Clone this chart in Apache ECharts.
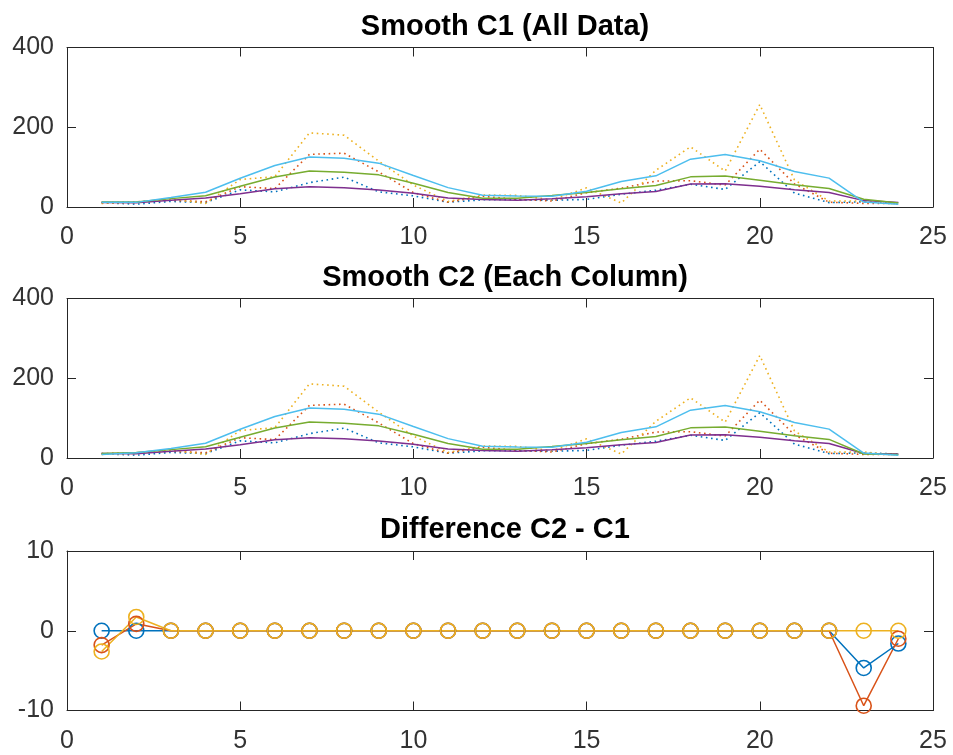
<!DOCTYPE html>
<html><head><meta charset="utf-8">
<script src="https://cdn.jsdelivr.net/npm/echarts@6/dist/echarts.min.js"></script>
<style>html,body{margin:0;padding:0;background:#fff}#c{width:953px;height:755px}</style>
</head><body><div id="c"></div>
<script>
// ---- data ----
const xs = [1,2,3,4,5,6,7,8,9,10,11,12,13,14,15,16,17,18,19,20,21,22,23,24];
const count1 = [11,7,14,11,43,38,61,75,38,28,12,18,18,17,19,32,42,57,44,114,35,11,13,10];
const count2 = [11,13,17,13,51,46,132,135,88,36,12,27,19,15,36,47,65,66,55,145,58,12,9,9];
const count3 = [9,11,20,9,69,76,186,180,115,55,14,30,29,18,48,10,92,151,90,257,68,15,15,7];
// smoothed over all data (C1)
const c1a = [11,10.667,17.2,22.6,33.4,45.6,51,48,42.8,34.2,22.8,18.6,16.8,20.8,25.6,33.4,38.8,57.8,58.4,52.2,43.4,36.6,16,11.6];
const c1b = [12.8,12.8,21,28,51.8,75.4,90.4,87.4,80.6,59.6,36.4,21.8,21.8,28.8,36.4,45.8,53.8,75.6,77.8,67.2,55.8,46.6,19.4,10];
const c1c = [11.6,11.6,23.6,37,72,104,125.2,122.4,110,78.8,48.6,29.2,27.8,27,39.4,63.8,78.2,120,131.6,116.2,89,72.4,12.333,7];
// smoothed per column (C2)
const c2a = [11,10.667,17.2,22.6,33.4,45.6,51,48,42.8,34.2,22.8,18.6,16.8,20.8,25.6,33.4,38.8,57.8,58.4,52.2,43.4,36.6,11.333,10];
const c2b = [11,13.667,21,28,51.8,75.4,90.4,87.4,80.6,59.6,36.4,21.8,21.8,28.8,36.4,45.8,53.8,75.6,77.8,67.2,55.8,46.6,10,9];
const c2c = [9,13.333,23.6,37,72,104,125.2,122.4,110,78.8,48.6,29.2,27.8,27,39.4,63.8,78.2,120,131.6,116.2,89,72.4,12.333,7];
// difference C2 - C1
const d1 = [0,0,0,0,0,0,0,0,0,0,0,0,0,0,0,0,0,0,0,0,0,0,-4.667,-1.6];
const d2 = [-1.8,0.867,0,0,0,0,0,0,0,0,0,0,0,0,0,0,0,0,0,0,0,0,-9.4,-1];
const d3 = [-2.6,1.733,0,0,0,0,0,0,0,0,0,0,0,0,0,0,0,0,0,0,0,0,0,0];
const titles = ['Smooth C1 (All Data)', 'Smooth C2 (Each Column)', 'Difference C2 - C1'];
const xTicks = {min: 0, max: 25, interval: 5};
const yTicksTop = {min: 0, max: 400, interval: 200};
const yTicksDiff = {min: -10, max: 10, interval: 10};

// ---- styling / layout ----
const C = ['#0072BD','#D95319','#EDB120','#7E2F8E','#77AC30','#4DBEEE'];
const FONT = '"Liberation Sans", Arial, Helvetica, sans-serif';
const AX = '#262626';
const gridTops = [47.5, 298.5, 551];
const gridH = 159.5;
const titleTops = [7, 258, 510];

const pts = arr => xs.map((x, i) => [x, arr[i]]);
const grids = [], xAxes = [], yAxes = [], series = [], titleArr = [];

function axisCommon(show) {
  return {
    axisLine: {show: true, onZero: false, lineStyle: {color: AX, width: 1}},
    axisTick: {show: true, inside: true, length: 9, lineStyle: {color: AX, width: 1}},
    splitLine: {show: false},
    axisLabel: {show: show, color: '#333', fontSize: 25, fontFamily: FONT}
  };
}

[yTicksTop, yTicksTop, yTicksDiff].forEach((yt, g) => {
  grids.push({left: 67, width: 866, top: gridTops[g], height: gridH, containLabel: false});
  const xb = Object.assign({type: 'value', gridIndex: g, position: 'bottom'}, xTicks, axisCommon(true));
  xb.axisLabel.margin = 18;
  const xt = Object.assign({type: 'value', gridIndex: g, position: 'top'}, xTicks, axisCommon(false));
  const yl = Object.assign({type: 'value', gridIndex: g, position: 'left'}, yt, axisCommon(true));
  yl.axisLabel.margin = 13;
  const yr = Object.assign({type: 'value', gridIndex: g, position: 'right'}, yt, axisCommon(false));
  xAxes.push(xb, xt);
  yAxes.push(yl, yr);
  titleArr.push({text: titles[g], left: 500, top: titleTops[g], textAlign: 'center',
    textStyle: {fontFamily: FONT, fontSize: 29, fontWeight: 'bold', color: '#000'}});
});

function lineS(g, data, color, dotted) {
  return {type: 'line', xAxisIndex: 2*g, yAxisIndex: 2*g, data: pts(data),
    showSymbol: false, symbol: 'none', silent: true,
    lineStyle: {color: color, width: dotted ? 1.6 : 1.5, type: dotted ? [1.6, 3.6] : 'solid'},
    itemStyle: {color: color}};
}
[[c1a,c1b,c1c],[c2a,c2b,c2c]].forEach((sm, g) => {
  [count1, count2, count3].forEach((d, k) => series.push(lineS(g, d, C[k], true)));
  sm.forEach((d, k) => series.push(lineS(g, d, C[k+3], false)));
});
[d1, d2, d3].forEach((d, k) => series.push({
  type: 'line', xAxisIndex: 4, yAxisIndex: 4, data: pts(d),
  symbol: 'circle', symbolSize: 15, showSymbol: true, showAllSymbol: true, silent: true,
  lineStyle: {color: C[k], width: 1.5},
  itemStyle: {color: 'rgba(0,0,0,0)', borderColor: C[k], borderWidth: 1.6}
}));

const chart = echarts.init(document.getElementById('c'), null, {renderer: 'canvas'});
chart.setOption({
  animation: false,
  backgroundColor: '#fff',
  title: titleArr,
  grid: grids,
  xAxis: xAxes,
  yAxis: yAxes,
  series: series
});
</script>
</body></html>
